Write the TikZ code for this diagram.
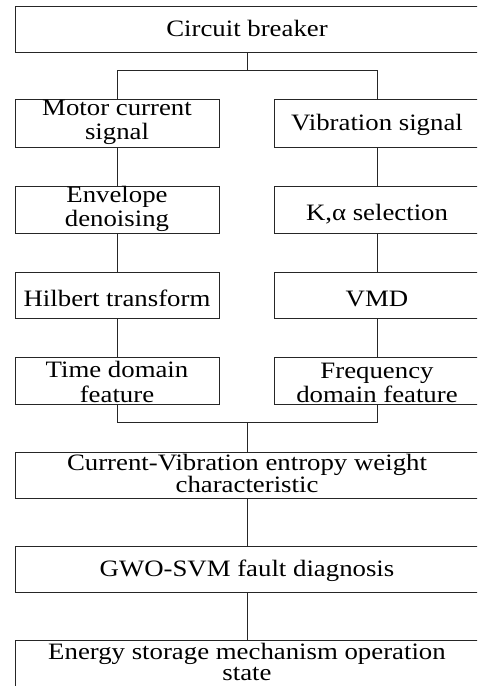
\documentclass[tikz,border=0pt]{standalone}
\usepackage{fontspec}
\setmainfont[FakeStretch=1.14]{Liberation Serif}
\begin{document}
\begin{tikzpicture}[x=1pt,y=-1pt,
  box/.style={draw=black!85,line width=0.9pt,rectangle,inner sep=0pt,align=center,
    text depth=0pt,font=\fontsize{23.5pt}{24pt}\selectfont},
  tight/.style={font=\fontsize{23.5pt}{20pt}\selectfont},
  snug/.style={font=\fontsize{23.5pt}{21.5pt}\selectfont},
  wide/.style={box,minimum width=464pt},
  lbox/.style={box,minimum width=204pt},
  rbox/.style={box,minimum width=206pt},
  link/.style={draw=black!85,line width=0.9pt}]
\clip (0,0) rectangle (477,686);
\useasboundingbox (0,0) rectangle (477,686);
\node[wide,minimum height=46pt,text height=15.4pt] (cb) at (247,29) {Circuit breaker};
\node[lbox,minimum height=48pt,text height=32pt] (l1) at (117,123) {Motor current\\signal};
\node[rbox,minimum height=48pt,text height=15.4pt] (r1) at (377,123) {Vibration signal};
\node[lbox,minimum height=47pt,text height=34.4pt] (l2) at (117,209.5) {Envelope\\denoising};
\node[rbox,minimum height=47pt,text height=22.4pt] (r2) at (377,209.5) {K,α selection};
\node[lbox,minimum height=46pt,text height=23.4pt] (l3) at (117,295) {Hilbert transform};
\node[rbox,minimum height=46pt,text height=22pt] (r3) at (377,295) {VMD};
\node[lbox,minimum height=47pt,text height=43pt] (l4) at (117,380.5) {Time domain\\[1pt]feature};
\node[rbox,minimum height=47pt,text height=43pt] (r4) at (377,380.5) {Frequency\\domain feature};
\node[wide,tight,minimum height=46pt,text height=35.4pt] (cv) at (247,475) {Current-Vibration entropy weight\\characteristic};
\node[wide,minimum height=46pt,text height=15.4pt] (gwo) at (247,569) {GWO-SVM fault diagnosis};
\node[wide,snug,minimum height=47pt,text height=34pt] (es) at (247,663.5) {Energy storage mechanism operation\\state};
\coordinate (split) at (247,70);
\coordinate (merge) at (247,422);
\draw[link] (cb.south) -- (split);
\draw[link] (split) -| (l1.north);
\draw[link] (split) -| (r1.north);
\draw[link] (l1) -- (l2);
\draw[link] (l2) -- (l3);
\draw[link] (l3) -- (l4);
\draw[link] (r1) -- (r2);
\draw[link] (r2) -- (r3);
\draw[link] (r3) -- (r4);
\draw[link] (l4.south) |- (merge);
\draw[link] (r4.south) |- (merge);
\draw[link] (merge) -- (cv.north);
\draw[link] (cv) -- (gwo);
\draw[link] (gwo) -- (es);
\end{tikzpicture}
\end{document}
